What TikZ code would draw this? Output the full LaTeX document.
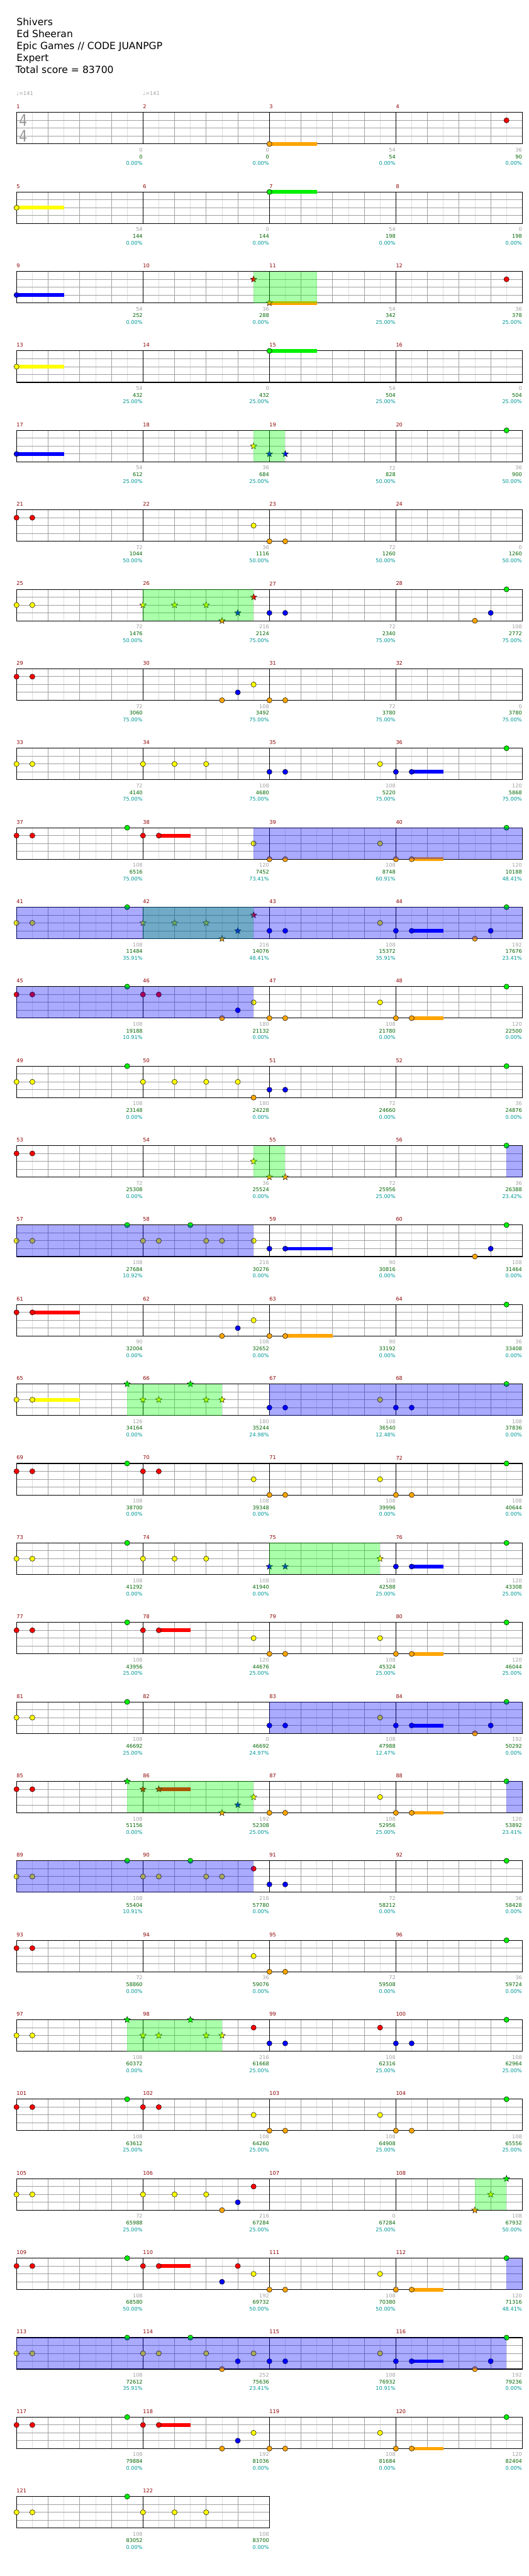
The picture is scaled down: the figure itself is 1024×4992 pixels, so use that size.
\documentclass[tikz,border=0pt]{standalone}
\usepackage{fontspec}
\setmainfont{DejaVu Sans}
\usepackage{tikz}
\usetikzlibrary{shapes.geometric}
\usepackage{xcolor}
\definecolor{lane0}{RGB}{0, 240, 0}
\definecolor{lane1}{RGB}{255, 0, 0}
\definecolor{lane2}{RGB}{255, 255, 0}
\definecolor{lane3}{RGB}{0, 0, 255}
\definecolor{lane4}{RGB}{255, 165, 0}
\definecolor{phrgreen}{RGB}{0, 255, 0}
\definecolor{actblue}{RGB}{0, 0, 255}
\definecolor{gridgray}{RGB}{160, 160, 160}
\definecolor{subgray}{RGB}{222, 222, 222}
\definecolor{lblgrey}{RGB}{160, 160, 160}
\definecolor{lblgreen}{RGB}{0, 100, 0}
\definecolor{lblcyan}{RGB}{0, 150, 150}
\definecolor{mred}{RGB}{140, 0, 0}
\definecolor{sigrey}{RGB}{150, 150, 150}

\newcommand{\lblfont}{\fontsize{10}{12}\selectfont}

% one line of the chart: #1 row, #2 first measure, #3 measures, #4 contents
\newcommand{\chartrow}[4]{%
  \begin{scope}[shift={(32,{218+154*#1})}, x=30.625pt, y=-15.25pt]
    \def\firstm{#2}%
    \pgfmathtruncatemacro{\lastp}{8*#3}%
    \foreach \e in {1,3,...,\lastp} \draw[eighthline] (\e,0) -- (\e,4);
    \foreach \e in {2,4,...,\lastp} \draw[beatline] (\e,0) -- (\e,4);
    \foreach \l in {1,2,3} \draw[laneline] (0,\l) -- (\lastp,\l);
    \foreach \e in {8,16,...,\lastp} \draw[barline] (\e,0) -- (\e,4);
    \draw[staffframe] (0,0) rectangle (\lastp,4);
    \foreach \k in {1,...,#3}{%
      \pgfmathtruncatemacro{\mnum}{#2+\k-1}%
      \node[measnum] (m\mnum) at ({8*(\k-1)},0) {\mnum};
    }
    #4
  \end{scope}}

% notes
\newcommand{\gem}[2]{\filldraw[gemline, fill=lane#2] (#1,#2) circle[radius=5pt];}
\newcommand{\spgem}[2]{\node[spstar, fill=lane#2] at (#1,#2) {};}
\newcommand{\tail}[3]{\fill[lane#2] (#1,{#2-0.23}) rectangle (#3,{#2+0.23});}
\newcommand{\hold}[3]{\tail{#1}{#2}{#3}\gem{#1}{#2}}
\newcommand{\sphold}[3]{\tail{#1}{#2}{#3}\spgem{#1}{#2}}
\newcommand{\spphrase}[2]{\fill[spzone] (#1,0) rectangle (#2,4);}
\newcommand{\spactive}[2]{\fill[actzone] (#1,0) rectangle (#2,4);}

% counts under the end of a measure
\newcommand{\mlab}[4]{%
  \pgfmathtruncatemacro{\mn}{\firstm+#1-1}%
  \node[hitcount] (hits\mn) at ({8*#1},4) {#2};
  \node[scoresum] (sum\mn) at ({8*#1},4) {#3};
  \node[sppct] (pct\mn) at ({8*#1},4) {#4\%};}

\begin{document}
\begin{tikzpicture}[
    x=1pt, y=-1pt,
    eighthline/.style={draw=subgray, line width=0.8pt},
    beatline/.style={draw=gridgray, line width=0.9pt},
    laneline/.style={draw=gridgray, line width=1.1pt},
    barline/.style={draw=black, line width=0.7pt},
    staffframe/.style={draw=black, line width=1.3pt},
    gemline/.style={draw=black, line width=0.6pt},
    spstar/.style={
        star,
        star points=5,
        star point ratio=2.3,
        minimum size=13pt,
        inner sep=0pt,
        draw=black,
        line width=0.5pt
    },
    spzone/.style={fill=phrgreen, fill opacity=0.333},
    actzone/.style={fill=actblue, fill opacity=0.333},
    measnum/.style={anchor=west, inner sep=0pt, yshift=11pt, text=mred, font=\lblfont},
    hitcount/.style={anchor=east, inner sep=0pt, xshift=-0.5pt, yshift=-11.7pt, text=lblgrey, font=\lblfont},
    scoresum/.style={anchor=east, inner sep=0pt, xshift=-0.5pt, yshift=-24.7pt, text=lblgreen, font=\lblfont},
    sppct/.style={anchor=east, inner sep=0pt, xshift=-0.5pt, yshift=-37.7pt, text=lblcyan, font=\lblfont},
    headline/.style={anchor=base west, inner sep=0pt, font=\fontsize{19}{22}\selectfont},
    tempo/.style={anchor=base west, inner sep=0pt, text=lblgrey, font=\lblfont},
    timesig/.style={inner sep=0pt, text=sigrey, font=\fontsize{31}{31}\selectfont}
]
    \useasboundingbox (0,0) rectangle (1024,4992);

    % Header
    \node[headline] (song) at (32,49.3) {Shivers};
    \node[headline] (artist) at (32,72.4) {Ed Sheeran};
    \node[headline] (charter) at (32,95.5) {Epic Games // CODE JUANPGP};
    \node[headline] (level) at (32,118.6) {Expert};
    \node[headline] (total) at (30,141.7) {Total score = 83700};
    \node[tempo] (tempoA) at (32,184.5) {♩=141};
    \node[tempo] (tempoB) at (277,184.5) {♩=141};

    % Rows
    \chartrow{0}{1}{4}{
      \node[timesig] (sigtop) at (0.42,1) {\scalebox{0.8}[1]{4}};
      \node[timesig] (sigbot) at (0.42,3) {\scalebox{0.8}[1]{4}};
      \hold{16}{4}{19} \gem{31}{1}
      \mlab{1}{0}{0}{0.00} \mlab{2}{0}{0}{0.00} \mlab{3}{54}{54}{0.00} \mlab{4}{36}{90}{0.00}
    }
    \chartrow{1}{5}{4}{
      \hold{0}{2}{3} \hold{16}{0}{19}
      \mlab{1}{54}{144}{0.00} \mlab{2}{0}{144}{0.00} \mlab{3}{54}{198}{0.00} \mlab{4}{0}{198}{0.00}
    }
    \chartrow{2}{9}{4}{
      \hold{0}{3}{3} \spgem{15}{1} \sphold{16}{4}{19} \gem{31}{1}
      \spphrase{15}{19}
      \mlab{1}{54}{252}{0.00} \mlab{2}{36}{288}{0.00} \mlab{3}{54}{342}{25.00} \mlab{4}{36}{378}{25.00}
    }
    \chartrow{3}{13}{4}{
      \hold{0}{2}{3} \hold{16}{0}{19}
      \mlab{1}{54}{432}{25.00} \mlab{2}{0}{432}{25.00} \mlab{3}{54}{504}{25.00} \mlab{4}{0}{504}{25.00}
    }
    \chartrow{4}{17}{4}{
      \hold{0}{3}{3} \spgem{15}{2} \spgem{16}{3} \spgem{17}{3} \gem{31}{0}
      \spphrase{15}{17}
      \mlab{1}{54}{612}{25.00} \mlab{2}{36}{684}{25.00} \mlab{3}{72}{828}{50.00} \mlab{4}{36}{900}{50.00}
    }
    \chartrow{5}{21}{4}{
      \gem{0}{1} \gem{1}{1} \gem{15}{2} \gem{16}{4} \gem{17}{4}
      \mlab{1}{72}{1044}{50.00} \mlab{2}{36}{1116}{50.00} \mlab{3}{72}{1260}{50.00} \mlab{4}{0}{1260}{50.00}
    }
    \chartrow{6}{25}{4}{
      \gem{0}{2} \gem{1}{2}
      \spgem{8}{2} \spgem{10}{2} \spgem{12}{2} \spgem{13}{4} \spgem{14}{3} \spgem{15}{1}
      \gem{16}{3} \gem{17}{3} \gem{29}{4} \gem{30}{3} \gem{31}{0}
      \spphrase{8}{15}
      \mlab{1}{72}{1476}{50.00} \mlab{2}{216}{2124}{75.00} \mlab{3}{72}{2340}{75.00} \mlab{4}{108}{2772}{75.00}
    }
    \chartrow{7}{29}{4}{
      \gem{0}{1} \gem{1}{1} \gem{13}{4} \gem{14}{3} \gem{15}{2} \gem{16}{4} \gem{17}{4}
      \mlab{1}{72}{3060}{75.00} \mlab{2}{108}{3492}{75.00} \mlab{3}{72}{3780}{75.00} \mlab{4}{0}{3780}{75.00}
    }
    \chartrow{8}{33}{4}{
      \gem{0}{2} \gem{1}{2} \gem{8}{2} \gem{10}{2} \gem{12}{2} \gem{16}{3} \gem{17}{3}
      \gem{23}{2} \gem{24}{3} \hold{25}{3}{27} \gem{31}{0}
      \mlab{1}{72}{4140}{75.00} \mlab{2}{108}{4680}{75.00} \mlab{3}{108}{5220}{75.00} \mlab{4}{120}{5868}{75.00}
    }
    \chartrow{9}{37}{4}{
      \gem{0}{1} \gem{1}{1} \gem{7}{0} \gem{8}{1} \hold{9}{1}{11} \gem{15}{2} \gem{16}{4} \gem{17}{4}
      \gem{23}{2} \gem{24}{4} \hold{25}{4}{27} \gem{31}{0}
      \spactive{15}{32}
      \mlab{1}{108}{6516}{75.00} \mlab{2}{120}{7452}{73.41} \mlab{3}{108}{8748}{60.91} \mlab{4}{120}{10188}{48.41}
    }
    \chartrow{10}{41}{4}{
      \gem{0}{2} \gem{1}{2} \gem{7}{0}
      \spgem{8}{2} \spgem{10}{2} \spgem{12}{2} \spgem{13}{4} \spgem{14}{3} \spgem{15}{1}
      \gem{16}{3} \gem{17}{3} \gem{23}{2} \gem{24}{3} \hold{25}{3}{27} \gem{29}{4} \gem{30}{3} \gem{31}{0}
      \spphrase{8}{15} \spactive{0}{32}
      \mlab{1}{108}{11484}{35.91} \mlab{2}{216}{14076}{48.41} \mlab{3}{108}{15372}{35.91} \mlab{4}{192}{17676}{23.41}
    }
    \chartrow{11}{45}{4}{
      \gem{0}{1} \gem{1}{1} \gem{7}{0} \gem{8}{1} \gem{9}{1} \gem{13}{4} \gem{14}{3} \gem{15}{2}
      \gem{16}{4} \gem{17}{4} \gem{23}{2} \gem{24}{4} \hold{25}{4}{27} \gem{31}{0}
      \spactive{0}{15}
      \mlab{1}{108}{19188}{10.91} \mlab{2}{180}{21132}{0.00} \mlab{3}{108}{21780}{0.00} \mlab{4}{120}{22500}{0.00}
    }
    \chartrow{12}{49}{4}{
      \gem{0}{2} \gem{1}{2} \gem{7}{0} \gem{8}{2} \gem{10}{2} \gem{12}{2} \gem{14}{2} \gem{15}{4}
      \gem{16}{3} \gem{17}{3} \gem{31}{0}
      \mlab{1}{108}{23148}{0.00} \mlab{2}{180}{24228}{0.00} \mlab{3}{72}{24660}{0.00} \mlab{4}{36}{24876}{0.00}
    }
    \chartrow{13}{53}{4}{
      \gem{0}{1} \gem{1}{1} \spgem{15}{2} \spgem{16}{4} \spgem{17}{4} \gem{31}{0}
      \spphrase{15}{17} \spactive{31}{32}
      \mlab{1}{72}{25308}{0.00} \mlab{2}{36}{25524}{0.00} \mlab{3}{72}{25956}{25.00} \mlab{4}{36}{26388}{23.42}
    }
    \chartrow{14}{57}{4}{
      \gem{0}{2} \gem{1}{2} \gem{7}{0} \gem{8}{2} \gem{9}{2} \gem{11}{0} \gem{12}{2} \gem{13}{2} \gem{15}{2}
      \gem{16}{3} \hold{17}{3}{20} \gem{29}{4} \gem{30}{3} \gem{31}{0}
      \spactive{0}{15}
      \mlab{1}{108}{27684}{10.92} \mlab{2}{216}{30276}{0.00} \mlab{3}{90}{30816}{0.00} \mlab{4}{108}{31464}{0.00}
    }
    \chartrow{15}{61}{4}{
      \gem{0}{1} \hold{1}{1}{4} \gem{13}{4} \gem{14}{3} \gem{15}{2} \gem{16}{4} \hold{17}{4}{20} \gem{31}{0}
      \mlab{1}{90}{32004}{0.00} \mlab{2}{108}{32652}{0.00} \mlab{3}{90}{33192}{0.00} \mlab{4}{36}{33408}{0.00}
    }
    \chartrow{16}{65}{4}{
      \gem{0}{2} \hold{1}{2}{4}
      \spgem{7}{0} \spgem{8}{2} \spgem{9}{2} \spgem{11}{0} \spgem{12}{2} \spgem{13}{2}
      \gem{16}{3} \gem{17}{3} \gem{23}{2} \gem{24}{3} \gem{25}{3} \gem{31}{0}
      \spphrase{7}{13} \spactive{16}{32}
      \mlab{1}{126}{34164}{0.00} \mlab{2}{180}{35244}{24.98} \mlab{3}{108}{36540}{12.48} \mlab{4}{108}{37836}{0.00}
    }
    \chartrow{17}{69}{4}{
      \gem{0}{1} \gem{1}{1} \gem{7}{0} \gem{8}{1} \gem{9}{1} \gem{15}{2} \gem{16}{4} \gem{17}{4}
      \gem{23}{2} \gem{24}{4} \gem{25}{4} \gem{31}{0}
      \mlab{1}{108}{38700}{0.00} \mlab{2}{108}{39348}{0.00} \mlab{3}{108}{39996}{0.00} \mlab{4}{108}{40644}{0.00}
    }
    \chartrow{18}{73}{4}{
      \gem{0}{2} \gem{1}{2} \gem{7}{0} \gem{8}{2} \gem{10}{2} \gem{12}{2}
      \spgem{16}{3} \spgem{17}{3} \spgem{23}{2} \gem{24}{3} \hold{25}{3}{27} \gem{31}{0}
      \spphrase{16}{23}
      \mlab{1}{108}{41292}{0.00} \mlab{2}{108}{41940}{0.00} \mlab{3}{108}{42588}{25.00} \mlab{4}{120}{43308}{25.00}
    }
    \chartrow{19}{77}{4}{
      \gem{0}{1} \gem{1}{1} \gem{7}{0} \gem{8}{1} \hold{9}{1}{11} \gem{15}{2} \gem{16}{4} \gem{17}{4}
      \gem{23}{2} \gem{24}{4} \hold{25}{4}{27} \gem{31}{0}
      \mlab{1}{108}{43956}{25.00} \mlab{2}{120}{44676}{25.00} \mlab{3}{108}{45324}{25.00} \mlab{4}{120}{46044}{25.00}
    }
    \chartrow{20}{81}{4}{
      \gem{0}{2} \gem{1}{2} \gem{7}{0} \gem{16}{3} \gem{17}{3} \gem{23}{2} \gem{24}{3} \hold{25}{3}{27}
      \gem{29}{4} \gem{30}{3} \gem{31}{0}
      \spactive{16}{32}
      \mlab{1}{108}{46692}{25.00} \mlab{2}{0}{46692}{24.97} \mlab{3}{108}{47988}{12.47} \mlab{4}{192}{50292}{0.00}
    }
    \chartrow{21}{85}{4}{
      \gem{0}{1} \gem{1}{1}
      \spgem{7}{0} \spgem{8}{1} \sphold{9}{1}{11} \spgem{13}{4} \spgem{14}{3} \spgem{15}{2}
      \gem{16}{4} \gem{17}{4} \gem{23}{2} \gem{24}{4} \hold{25}{4}{27} \gem{31}{0}
      \spphrase{7}{15} \spactive{31}{32}
      \mlab{1}{108}{51156}{0.00} \mlab{2}{192}{52308}{25.00} \mlab{3}{108}{52956}{25.00} \mlab{4}{120}{53892}{23.41}
    }
    \chartrow{22}{89}{4}{
      \gem{0}{2} \gem{1}{2} \gem{7}{0} \gem{8}{2} \gem{9}{2} \gem{11}{0} \gem{12}{2} \gem{13}{2} \gem{15}{1}
      \gem{16}{3} \gem{17}{3} \gem{31}{0}
      \spactive{0}{15}
      \mlab{1}{108}{55404}{10.91} \mlab{2}{216}{57780}{0.00} \mlab{3}{72}{58212}{0.00} \mlab{4}{36}{58428}{0.00}
    }
    \chartrow{23}{93}{4}{
      \gem{0}{1} \gem{1}{1} \gem{15}{2} \gem{16}{4} \gem{17}{4} \gem{31}{0}
      \mlab{1}{72}{58860}{0.00} \mlab{2}{36}{59076}{0.00} \mlab{3}{72}{59508}{0.00} \mlab{4}{36}{59724}{0.00}
    }
    \chartrow{24}{97}{4}{
      \gem{0}{2} \gem{1}{2}
      \spgem{7}{0} \spgem{8}{2} \spgem{9}{2} \spgem{11}{0} \spgem{12}{2} \spgem{13}{2}
      \gem{15}{1} \gem{16}{3} \gem{17}{3} \gem{23}{1} \gem{24}{3} \gem{25}{3} \gem{31}{0}
      \spphrase{7}{13}
      \mlab{1}{108}{60372}{0.00} \mlab{2}{216}{61668}{25.00} \mlab{3}{108}{62316}{25.00} \mlab{4}{108}{62964}{25.00}
    }
    \chartrow{25}{101}{4}{
      \gem{0}{1} \gem{1}{1} \gem{7}{0} \gem{8}{1} \gem{9}{1} \gem{15}{2} \gem{16}{4} \gem{17}{4}
      \gem{23}{2} \gem{24}{4} \gem{25}{4} \gem{31}{0}
      \mlab{1}{108}{63612}{25.00} \mlab{2}{108}{64260}{25.00} \mlab{3}{108}{64908}{25.00} \mlab{4}{108}{65556}{25.00}
    }
    \chartrow{26}{105}{4}{
      \gem{0}{2} \gem{1}{2} \gem{8}{2} \gem{10}{2} \gem{12}{2} \gem{13}{4} \gem{14}{3} \gem{15}{1}
      \spgem{29}{4} \spgem{30}{2} \spgem{31}{0}
      \spphrase{29}{31}
      \mlab{1}{72}{65988}{25.00} \mlab{2}{216}{67284}{25.00} \mlab{3}{0}{67284}{25.00} \mlab{4}{108}{67932}{50.00}
    }
    \chartrow{27}{109}{4}{
      \gem{0}{1} \gem{1}{1} \gem{7}{0} \gem{8}{1} \hold{9}{1}{11} \gem{13}{3} \gem{14}{1} \gem{15}{2}
      \gem{16}{4} \gem{17}{4} \gem{23}{2} \gem{24}{4} \hold{25}{4}{27} \gem{31}{0}
      \spactive{31}{32}
      \mlab{1}{108}{68580}{50.00} \mlab{2}{192}{69732}{50.00} \mlab{3}{108}{70380}{50.00} \mlab{4}{120}{71316}{48.41}
    }
    \chartrow{28}{113}{4}{
      \gem{0}{2} \gem{1}{2} \gem{7}{0} \gem{8}{2} \gem{9}{2} \gem{11}{0} \gem{12}{2} \gem{13}{4} \gem{14}{3}
      \gem{15}{2} \gem{16}{3} \gem{17}{3} \gem{23}{2} \gem{24}{3} \hold{25}{3}{27} \gem{29}{4} \gem{30}{3} \gem{31}{0}
      \spactive{0}{31}
      \mlab{1}{108}{72612}{35.91} \mlab{2}{252}{75636}{23.41} \mlab{3}{108}{76932}{10.91} \mlab{4}{192}{79236}{0.00}
    }
    \chartrow{29}{117}{4}{
      \gem{0}{1} \gem{1}{1} \gem{7}{0} \gem{8}{1} \hold{9}{1}{11} \gem{13}{4} \gem{14}{3} \gem{15}{2}
      \gem{16}{4} \gem{17}{4} \gem{23}{2} \gem{24}{4} \hold{25}{4}{27} \gem{31}{0}
      \mlab{1}{108}{79884}{0.00} \mlab{2}{192}{81036}{0.00} \mlab{3}{108}{81684}{0.00} \mlab{4}{120}{82404}{0.00}
    }
    \chartrow{30}{121}{2}{
      \gem{0}{2} \gem{1}{2} \gem{7}{0} \gem{8}{2} \gem{10}{2} \gem{12}{2}
      \mlab{1}{108}{83052}{0.00} \mlab{2}{108}{83700}{0.00}
    }

\end{tikzpicture}
\end{document}
